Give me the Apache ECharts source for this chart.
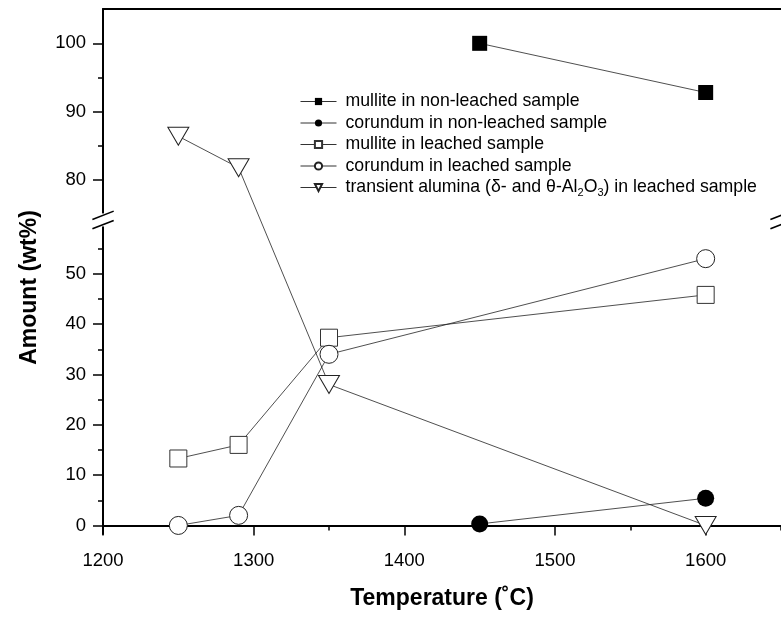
<!DOCTYPE html>
<html><head><meta charset="utf-8">
<script src="https://cdn.jsdelivr.net/npm/echarts@6/dist/echarts.min.js"></script>
<style>html,body{margin:0;padding:0;background:#fff}#c{width:781px;height:618px}</style>
</head><body><div id="c"></div>
<script>
// ---------- data ----------
const tempsNonLeached = [1450, 1600];
const mulliteNonLeached = [100.0, 92.8];
const corundumNonLeached = [0.3, 5.4];
const tempsLeached = [1250, 1290, 1350, 1600];
const mulliteLeached = [13.3, 16.0, 37.3, 45.8];
const corundumLeached = [0.0, 2.0, 34.0, 53.0];
const transientAlumina = [86.4, 81.8, 28.0, 0.0];
const seriesNames = [
  'mullite in non-leached sample',
  'corundum in non-leached sample',
  'mullite in leached sample',
  'corundum in leached sample',
  'transient alumina (δ- and θ-Al2O3) in leached sample'
];
const xMajorTicks = [1200, 1300, 1400, 1500, 1600];
const xMinorTicks = [1250, 1350, 1450, 1550, 1650];
const yMajorTicks = [0, 10, 20, 30, 40, 50, 80, 90, 100];
const yMinorTicks = [5, 15, 25, 35, 45, 55, 85, 95];

// ---------- broken y axis (lower 0-60, upper 74-105 drawn at a larger scale) ----------
const LOWER_MAX = 60.1, UPPER_REF = 80, UPPER_REF_POS = 68.63, UPPER_SCALE = 1.3575;
function toAxis(v) { return v <= LOWER_MAX ? v : UPPER_REF_POS + (v - UPPER_REF) * UPPER_SCALE; }
function fromAxis(d) { return d <= LOWER_MAX + 0.05 ? d : UPPER_REF + (d - UPPER_REF_POS) / UPPER_SCALE; }
const Y_MIN = -1.7, Y_MAX = 102.6;

const FONT = 'Liberation Sans';
const chart = echarts.init(document.getElementById('c'), null, {renderer: 'canvas'});
const LINE = {color: '#222', width: 0.8};

function pts(xs, ys) { return xs.map((x, i) => [x, toAxis(ys[i])]); }

const downTri = 'path://M0,0 L20,0 L10,18 Z';

const option = {
  animation: false,
  backgroundColor: '#fff',
  grid: {left: 103, top: 9, width: 680, height: 525, containLabel: false},
  xAxis: [
    {type: 'value', position: 'bottom', min: 1200, max: 1650, interval: 50,
     name: 'Temperature (˚C)', nameLocation: 'middle', nameGap: 53,
     nameTextStyle: {fontFamily: FONT, fontSize: 23, fontWeight: 'bold', color: '#000'},
     axisLine: {show: true, lineStyle: {color: '#000', width: 2}},
     axisTick: {show: true, customValues: xMajorTicks, length: 10, lineStyle: {color: '#000', width: 1.5}},
     axisLabel: {show: true, customValues: xMajorTicks, margin: 17, fontFamily: FONT, fontSize: 18.5, color: '#000',
                 formatter: v => String(v)},
     splitLine: {show: false}},
    {type: 'value', position: 'bottom', min: 1200, max: 1650,
     axisLine: {show: false},
     axisTick: {show: true, customValues: xMinorTicks, length: 5, lineStyle: {color: '#000', width: 1.5}},
     axisLabel: {show: false}, splitLine: {show: false}},
    {type: 'value', position: 'top', min: 1200, max: 1650,
     axisLine: {show: true, lineStyle: {color: '#000', width: 2}},
     axisTick: {show: false}, axisLabel: {show: false}, splitLine: {show: false}}
  ],
  yAxis: [
    {type: 'value', position: 'left', min: Y_MIN, max: Y_MAX,
     name: 'Amount (wt%)', nameLocation: 'middle', nameGap: 62,
     nameTextStyle: {fontFamily: FONT, fontSize: 23, fontWeight: 'bold', color: '#000', padding: [0, 32, 0, 0]},
     axisLine: {show: true, lineStyle: {color: '#000', width: 2}},
     axisTick: {show: true, customValues: yMajorTicks.map(toAxis), length: 10, lineStyle: {color: '#000', width: 1.5}},
     axisLabel: {show: true, customValues: yMajorTicks.map(toAxis), margin: 17, fontFamily: FONT, fontSize: 18.5, color: '#000',
                 formatter: v => String(Math.round(fromAxis(v)))},
     splitLine: {show: false}},
    {type: 'value', position: 'left', min: Y_MIN, max: Y_MAX,
     axisLine: {show: false},
     axisTick: {show: true, customValues: yMinorTicks.map(toAxis), length: 5, lineStyle: {color: '#000', width: 1.5}},
     axisLabel: {show: false}, splitLine: {show: false}}
  ],
  legend: {
    orient: 'vertical', left: 295, top: 87, itemWidth: 36, itemHeight: 9, itemGap: 2.5,
    data: seriesNames,
    lineStyle: {width: 1, color: '#333'},
    textStyle: {fontFamily: FONT, fontSize: 17.7, color: '#000', lineHeight: 19, padding: [0, 0, 0, 4],
      rich: {s: {fontFamily: FONT, fontSize: 11, color: '#000', padding: [11, 0, 0, 0]}}},
    formatter: function (name) {
      if (name === seriesNames[4]) {
        return 'transient alumina (δ- and θ-Al{s|2}O{s|3}) in leached sample';
      }
      return name;
    }
  },
  series: [
    {name: seriesNames[0], type: 'line', data: pts(tempsNonLeached, mulliteNonLeached),
     symbol: 'rect', symbolSize: 15, lineStyle: LINE,
     itemStyle: {color: '#000', borderColor: '#000', borderWidth: 0}},
    {name: seriesNames[1], type: 'line', data: pts(tempsNonLeached, corundumNonLeached),
     symbol: 'circle', symbolSize: 17, lineStyle: LINE,
     itemStyle: {color: '#000', borderColor: '#000', borderWidth: 0}},
    {name: seriesNames[2], type: 'line', data: pts(tempsLeached, mulliteLeached),
     symbol: 'rect', symbolSize: 17, lineStyle: LINE, showAllSymbol: true,
     itemStyle: {color: '#fff', borderColor: '#333', borderWidth: 1}},
    {name: seriesNames[3], type: 'line', data: pts(tempsLeached, corundumLeached),
     symbol: 'circle', symbolSize: 18, lineStyle: LINE, showAllSymbol: true,
     itemStyle: {color: '#fff', borderColor: '#222', borderWidth: 1}},
    {name: seriesNames[4], type: 'line', data: pts(tempsLeached, transientAlumina),
     symbol: downTri, symbolSize: [21, 18], lineStyle: LINE, showAllSymbol: true,
     itemStyle: {color: '#fff', borderColor: '#222', borderWidth: 1}}
  ]
};
chart.setOption(option);

// ---------- break marks on the y axis ----------
function breakMarks(xVal) {
  const p = chart.convertToPixel({xAxisIndex: 0, yAxisIndex: 0}, [xVal, toAxis(LOWER_MAX)]);
  const cx = p[0], cy = p[1] - 3;
  return [
    {type: 'rect', shape: {x: cx - 4, y: cy - 6.5, width: 8, height: 13}, style: {fill: '#fff'}, z: 100},
    {type: 'line', shape: {x1: cx - 10.6, y1: cy - 0.5, x2: cx + 10.7, y2: cy - 8.8}, style: {stroke: '#000', lineWidth: 1.6}, z: 101},
    {type: 'line', shape: {x1: cx - 10.6, y1: cy + 8.8, x2: cx + 10.7, y2: cy + 0.5}, style: {stroke: '#000', lineWidth: 1.6}, z: 101}
  ];
}
chart.setOption({graphic: breakMarks(1200).concat(breakMarks(1650))});
</script>
</body></html>
